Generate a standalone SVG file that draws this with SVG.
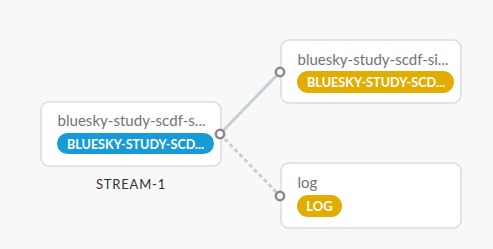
<svg xmlns="http://www.w3.org/2000/svg" width="493" height="249" viewBox="0 0 493 249">
<style>
.bg{fill:#f8f8f8}
.box{fill:#ffffff;stroke:#dcdcdc;stroke-width:1.5}
.title{font-family:Lato,"Open Sans","Liberation Sans",sans-serif;font-size:15px;fill:#737373}
.pill-text{font-family:Lato,"Open Sans","Liberation Sans",sans-serif;font-size:13px;fill:#ffffff;font-weight:bold}
.blue{fill:#179bd7}
.yellow{fill:#e3ad00}
.port{fill:#ffffff;stroke:#8a8a8a;stroke-width:2.5}
.link{stroke:#c5d0d6;stroke-width:3;fill:none}
.dash{stroke-dasharray:4 3}
.label{font-family:Lato,"Open Sans","Liberation Sans",sans-serif;font-size:13px;fill:#333333;letter-spacing:0.8px}
</style>
<rect class="bg" x="0" y="0" width="493" height="249"/>
<g id="connectors">
<line class="link" x1="220" y1="134" x2="280" y2="72"/>
<line class="link dash" x1="220" y1="134" x2="280" y2="196"/>
</g>
<g id="node-source">
<rect class="box" x="41" y="102" width="180" height="64" rx="8"/>
<text class="title" x="57.5" y="125.5" textLength="148" lengthAdjust="spacingAndGlyphs">bluesky-study-scdf-s...</text>
<rect class="blue" x="57" y="133" width="157" height="21" rx="10.5"/>
<text class="pill-text" x="67" y="148.5" textLength="137" lengthAdjust="spacingAndGlyphs">BLUESKY-STUDY-SCD...</text>
<circle class="port" cx="220" cy="134" r="4.2"/>
</g>
<text class="label" x="131" y="189" text-anchor="middle">STREAM-1</text>
<g id="node-sink">
<rect class="box" x="281" y="40" width="180" height="63" rx="8"/>
<text class="title" x="297.5" y="64.5" textLength="151" lengthAdjust="spacingAndGlyphs">bluesky-study-scdf-si...</text>
<rect class="yellow" x="297" y="71" width="157" height="22" rx="11"/>
<text class="pill-text" x="307" y="87" textLength="138" lengthAdjust="spacingAndGlyphs">BLUESKY-STUDY-SCD...</text>
<circle class="port" cx="280" cy="72" r="4.2"/>
</g>
<g id="node-log">
<rect class="box" x="281" y="163" width="180" height="65" rx="8"/>
<text class="title" x="297.5" y="188">log</text>
<rect class="yellow" x="297" y="195" width="45" height="22" rx="11"/>
<text class="pill-text" x="319.5" y="211" text-anchor="middle">LOG</text>
<circle class="port" cx="280" cy="196" r="4.2"/>
</g>
</svg>
